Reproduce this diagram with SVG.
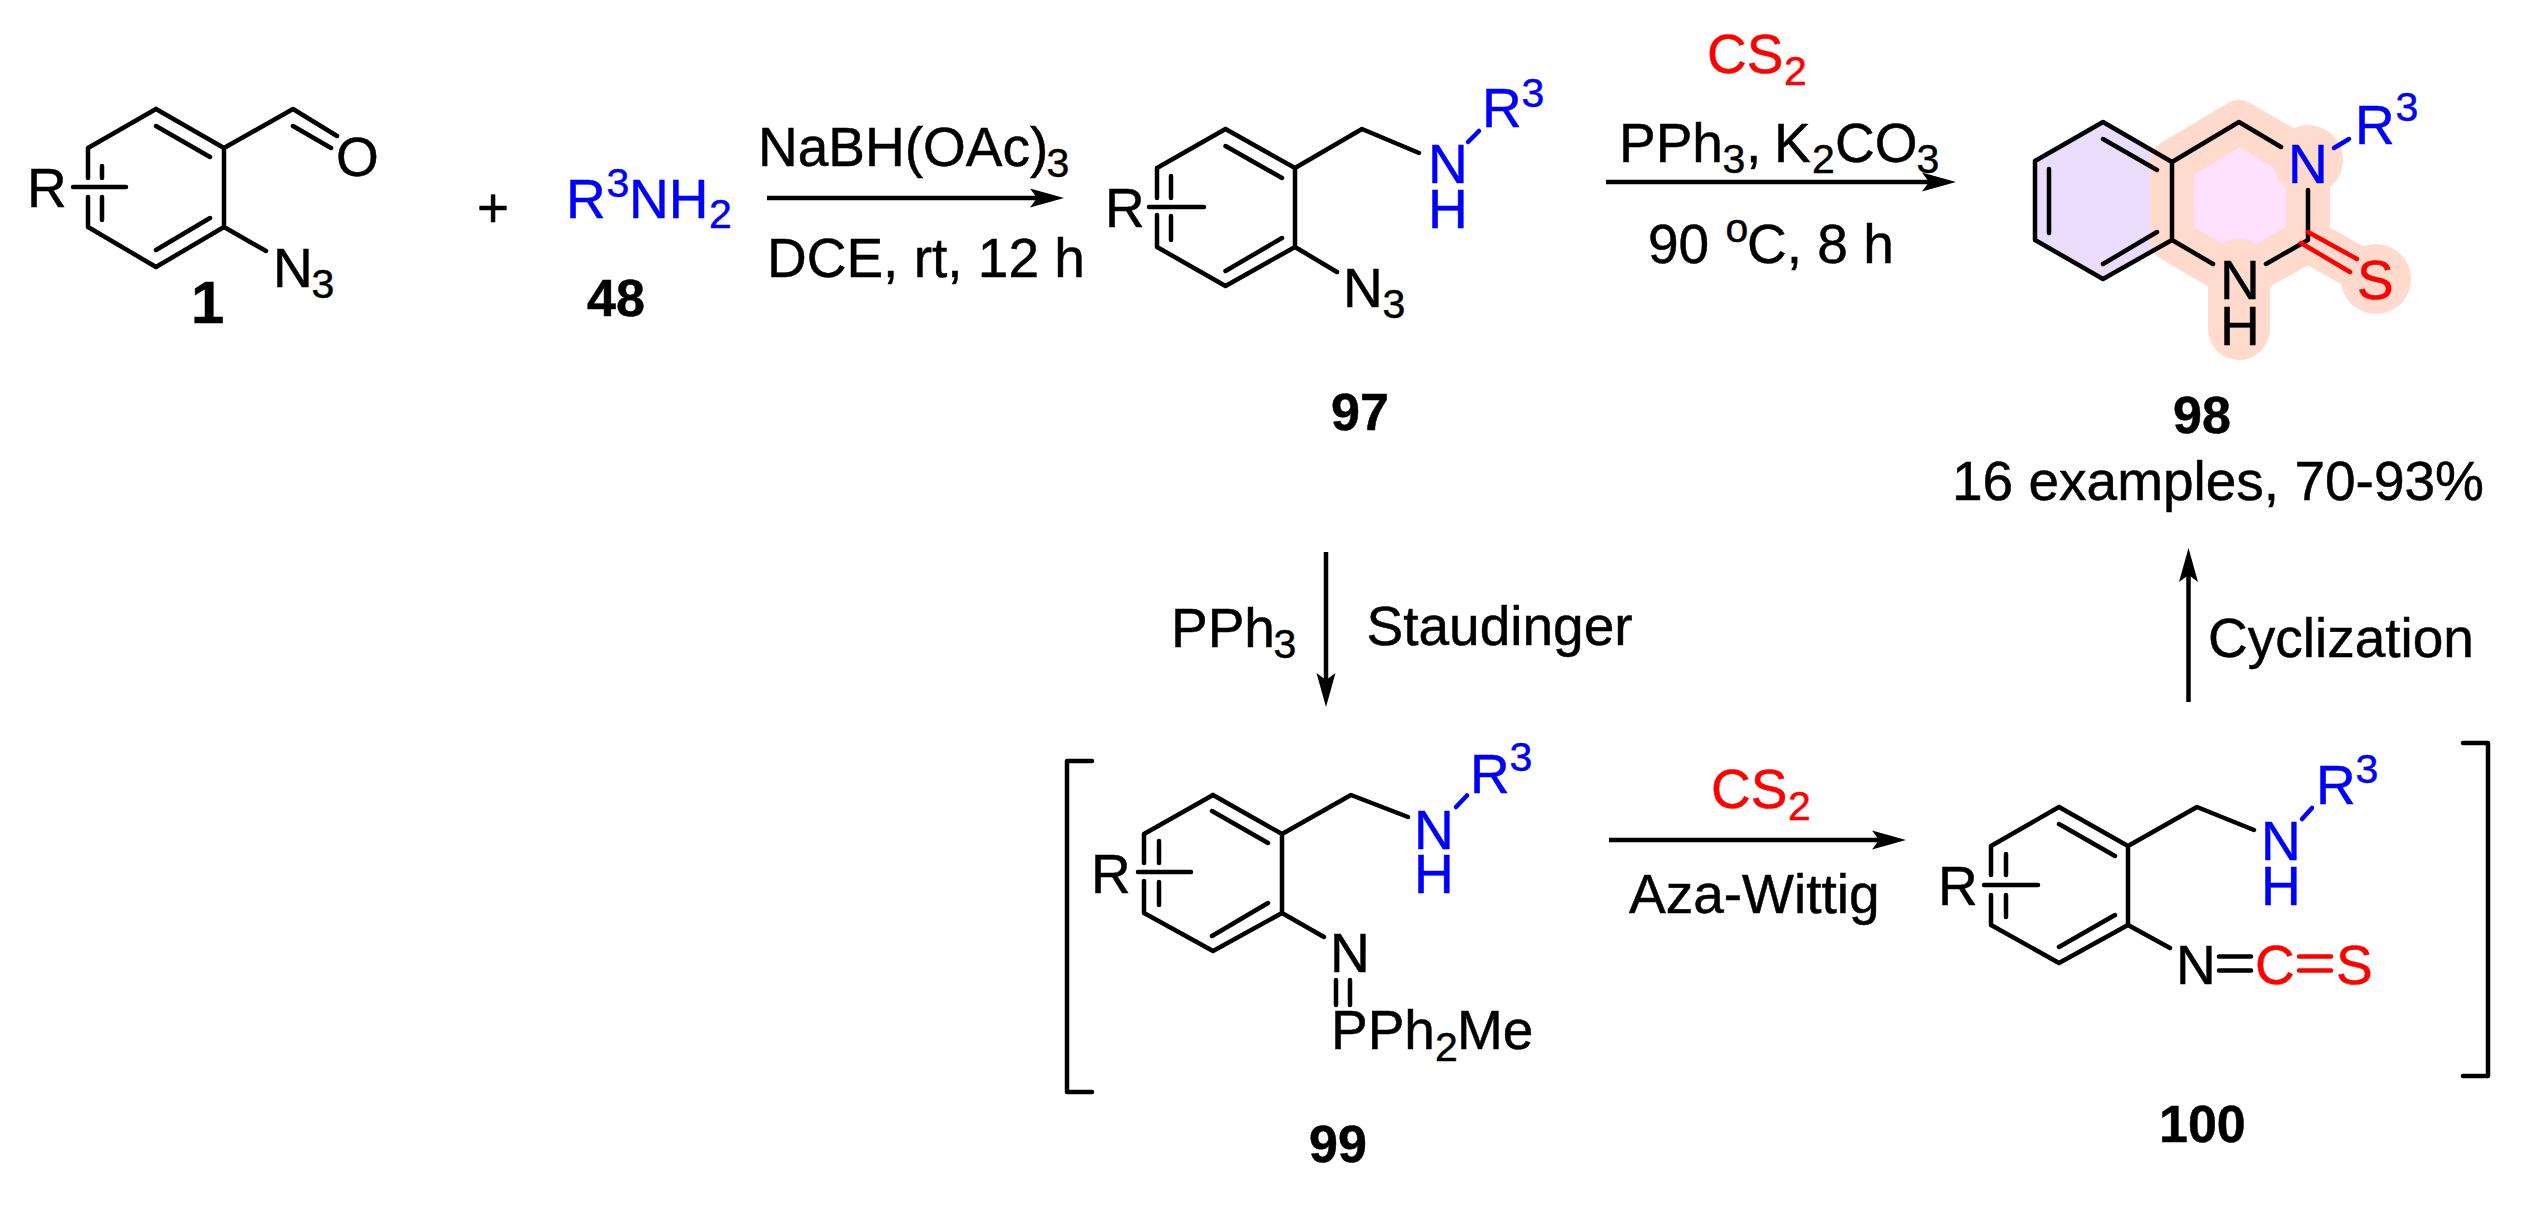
<svg xmlns="http://www.w3.org/2000/svg" width="2528" height="1205" viewBox="0 0 2528 1205">
<style>
text{font-family:"Liberation Sans",Arial,sans-serif;font-size:55px;fill:#000;stroke:#000;stroke-width:.5}
.s{font-size:41px}
.b{font-weight:bold;font-size:52px}
text.bl,.bl text{fill:#0000ff;stroke:#0000ff}
text.rd,.rd text{fill:#ff0000;stroke:#ff0000}
.bond{stroke:#000;stroke-width:4.500;fill:none;stroke-linecap:round;stroke-linejoin:round}
.blue{stroke:#0000ff}
.red{stroke:#ff0000}
.arr{stroke:#000;stroke-width:4.500;fill:none}
</style>
<defs>
<marker id="head" markerUnits="userSpaceOnUse" markerWidth="40" markerHeight="24" viewBox="0 -12 40 24" refX="7" refY="0" orient="auto">
<path d="M0-9.500 34 0 0 9.500 7 0Z" fill="#000"/>
</marker>
</defs>
<rect width="2528" height="1205" fill="#fff"/>

<g id="connectors">
<path class="arr" marker-end="url(#head)" d="M767 198H1037"/>
<path class="arr" marker-end="url(#head)" d="M1606 182H1929"/>
<path class="arr" marker-end="url(#head)" d="M1326 552V680"/>
<path class="arr" marker-end="url(#head)" d="M1609 840H1879"/>
<path class="arr" marker-end="url(#head)" d="M2188.500 702V575"/>
</g>

<g id="node-1">
<path class="bond" d="M156 109 224 148V227L156 267 88 227V197M88 178V148L156 109M156 126 210 157M210 218 156 250M102 166V178M102 197V220M73 187H126M224 148 293 109 337 136M293 126 331 148M224 227 266 251"/>
<text x="27" y="207">R</text>
<text x="336" y="176">O</text>
<text x="273" y="287">N<tspan class="s" x="311.500" y="298">3</tspan></text>
<text class="b" x="191" y="323" style="font-size:60px">1</text>
</g>

<g id="plus"><text x="477" y="227">+</text></g>

<g id="node-48">
<text class="bl" x="566" y="218">R<tspan class="s" x="606.500" y="197">3</tspan><tspan x="629" y="218">NH</tspan><tspan class="s" x="709" y="228">2</tspan></text>
<text class="b" x="587" y="316">48</text>
</g>

<g id="reagents-1">
<text x="758" y="166">NaBH(OAc)<tspan class="s" x="1046.500" y="177">3</tspan></text>
<text x="767" y="277">DCE, rt, 12 h</text>
</g>

<g id="node-97">
<path class="bond" d="M1225.500 129 1295 168V247L1225.500 286 1157 247V215M1157 198V168L1225.500 129M1225.500 146 1282 178M1282 238 1225.500 271M1171 176V198M1171 216V240M1149 207H1204M1295 168 1362 129 1419 153M1295 247 1337 272"/>
<path class="bond blue" d="M1468 142 1479 131"/>
<text x="1105" y="227">R</text>
<text x="1343" y="307">N<tspan class="s" x="1382.500" y="318">3</tspan></text>
<g class="bl">
<text x="1428" y="183">N</text>
<text x="1428" y="228">H</text>
<text x="1482" y="127">R<tspan class="s" x="1521.500" y="107">3</tspan></text>
</g>
<text class="b" x="1331" y="430">97</text>
</g>

<g id="reagents-2">
<text class="rd" x="1707" y="73">CS<tspan class="s" x="1784" y="85">2</tspan></text>
<text x="1619" y="162">PPh<tspan class="s" x="1722.500" y="173">3</tspan><tspan x="1746" y="162">, </tspan><tspan x="1774" y="162">K</tspan><tspan class="s" x="1812" y="173">2</tspan><tspan x="1835" y="162">CO</tspan><tspan class="s" x="1916.500" y="173">3</tspan></text>
<text x="1648" y="263">90 <tspan class="s" x="1725.500" y="242">o</tspan><tspan x="1747" y="263">C, 8 h</tspan></text>
</g>

<g id="node-98">
<path d="M2035 161 2103 122 2172 162V240L2103 279 2035 240Z" fill="#e9ddfb"/>
<path d="M2193 175 2239 148 2286 172V228L2239 254 2193 228Z" fill="#ffe0fd"/>
<g fill="none" stroke="#ffdacd" stroke-linecap="round" stroke-linejoin="round">
<path stroke-width="44" d="M2172 162 2239 122 2308 162V240L2239 279 2172 240Z"/>
<path stroke-width="44" d="M2308 240 2376 279"/>
<path stroke-width="62" d="M2239 270V329"/>
</g>
<circle cx="2308" cy="160" r="35" fill="#ffdacd"/>
<circle cx="2376" cy="279" r="35" fill="#ffdacd"/>
<path class="bond" d="M2172 162 2103 122 2035 161V240L2103 279 2172 240ZM2103 139 2157 170M2157 232 2103 264M2049 169V233M2172 162 2239 122 2281 147M2308 190V240L2266 264M2172 240 2213 264"/>
<path class="bond blue" d="M2334 148 2349 139"/>
<path class="bond red" d="M2308 232 2357 259M2301 243 2350 272"/>
<text x="2220" y="299">N</text>
<text x="2220" y="345">H</text>
<g class="bl">
<text x="2288" y="183">N</text>
<text x="2355" y="144">R<tspan class="s" x="2395.500" y="121">3</tspan></text>
</g>
<text class="rd" x="2357" y="299">S</text>
<text class="b" x="2173" y="433">98</text>
<text x="1952" y="500">16 examples, 70-93%</text>
</g>

<g id="reagents-3">
<text x="1171" y="647">PPh<tspan class="s" x="1273.500" y="658">3</tspan></text>
<text x="1366.500" y="645">Staudinger</text>
<text x="2208" y="657">Cyclization</text>
</g>

<g id="node-99">
<path class="bond" d="M1092 761H1067V1092H1092"/>
<path class="bond" d="M1213 795 1282 834V913L1213 951 1144 913V881M1144 863V834L1213 795M1212 811 1268 843M1268 903 1212 936M1159 841V863M1159 882V905M1138 872H1191M1282 834 1351 795 1408 817M1282 913 1324 937M1336 980V1005M1350 980V1005"/>
<path class="bond blue" d="M1456 807 1467 795.500"/>
<text x="1091" y="893">R</text>
<text x="1330" y="972">N</text>
<text x="1331" y="1049">PPh<tspan class="s" x="1435" y="1061">2</tspan><tspan x="1457" y="1049">Me</tspan></text>
<g class="bl">
<text x="1414" y="849">N</text>
<text x="1414" y="893">H</text>
<text x="1470" y="793">R<tspan class="s" x="1509.500" y="771">3</tspan></text>
</g>
<text class="b" x="1309" y="1162">99</text>
</g>

<g id="reagents-4">
<text class="rd" x="1711" y="808">CS<tspan class="s" x="1788" y="820">2</tspan></text>
<text x="1629" y="913">Aza-Wittig</text>
</g>

<g id="node-100">
<path class="bond" d="M2059 807 2128 846V925L2059 963 1991 925V895M1991 875V846L2059 807M2059 824 2115 856M2115 915 2059 947M2006 854V875M2006 895V917M1984 885H2038M2128 846 2197 807 2254 830M2128 925 2170 948M2219 956.500H2251M2219 970.500H2251"/>
<path class="bond blue" d="M2302 819 2312 808"/>
<path class="bond red" d="M2299 956.500H2331M2299 970.500H2331"/>
<text x="1938" y="905">R</text>
<text x="2176" y="984">N</text>
<text class="rd" x="2255" y="984">C</text>
<text class="rd" x="2336" y="984">S</text>
<g class="bl">
<text x="2261" y="860">N</text>
<text x="2261" y="905">H</text>
<text x="2316" y="804">R<tspan class="s" x="2355.500" y="783">3</tspan></text>
</g>
<path class="bond" d="M2463 743H2488V1076H2463"/>
<text class="b" x="2159" y="1142">100</text>
</g>
</svg>
